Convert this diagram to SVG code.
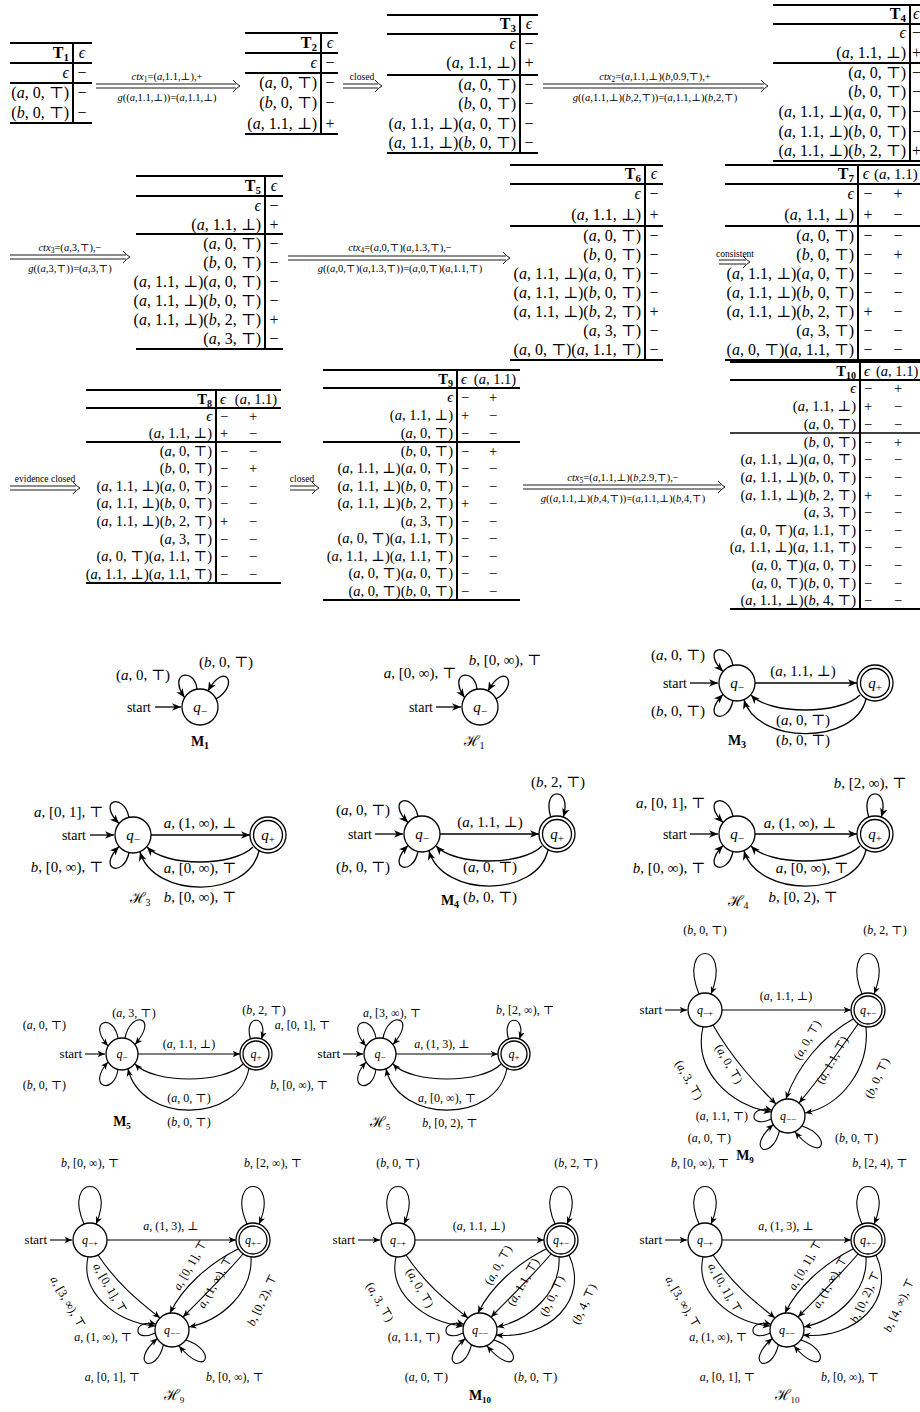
<svg xmlns="http://www.w3.org/2000/svg" width="920" height="1412" viewBox="0 0 920 1412">
<defs>
<style>
text{font-family:"Liberation Serif","DejaVu Serif",serif;fill:#000}
.t{font-size:16px}
.s{font-size:14.5px}
.e{text-anchor:end}
.c{text-anchor:middle}
.i{font-style:italic}
.b{font-weight:bold}
.u{font-size:10.5px}
.w{font-size:9.5px}
.k{font-size:15px}
.k2{font-size:12px}
.sl{font-size:14px}
.sl2{font-size:13px}
.nm{font-size:14px;font-weight:bold}
.nh{font-size:15px}
.ln{fill:none;stroke:#000;stroke-width:2}
.d{fill:none;stroke:#000;stroke-width:0.9}
.st{fill:#fff;stroke:#000;stroke-width:1.3}
.ed{fill:none;stroke:#000;stroke-width:1.3;marker-end:url(#ah)}
.ed2{fill:none;stroke:#000;stroke-width:1.1;marker-end:url(#ah2)}
</style>
<marker id="ah" viewBox="0 0 10 10" refX="10" refY="5" markerWidth="9" markerHeight="9" markerUnits="userSpaceOnUse" orient="auto"><path d="M0 0.8L10 5L0 9.2L2.8 5z"/></marker>
<marker id="ah2" viewBox="0 0 10 10" refX="10" refY="5" markerWidth="7.5" markerHeight="7.5" markerUnits="userSpaceOnUse" orient="auto"><path d="M0 0.8L10 5L0 9.2L2.8 5z"/></marker>
</defs>
<rect width="920" height="1412" fill="#fff"/>

<!-- TABLES -->
<g id="T1">
<path class="ln" d="M10 43H92M10 63H92M10 83H92M10 123H92M73 43V123"/>
<text class="t b e" x="69" y="58">T<tspan font-size="11" dy="3">1</tspan></text>
<text class="t i c" x="82" y="58">ϵ</text>
<text class="t e"><tspan x="69" y="78" class="i">ϵ</tspan><tspan x="69" y="98">(<tspan class="i">a</tspan>, 0, ⊤)</tspan><tspan x="69" y="118">(<tspan class="i">b</tspan>, 0, ⊤)</tspan></text>
<text class="t c"><tspan x="82" y="78">−</tspan><tspan x="82" y="98">−</tspan><tspan x="82" y="118">−</tspan></text>
</g>

<g id="T2">
<path class="ln" d="M245 33H338M245 53H338M245 73H338M245 134H338M321 33V134"/>
<text class="t b e" x="317" y="48">T<tspan font-size="11" dy="3">2</tspan></text>
<text class="t i c" x="330" y="48">ϵ</text>
<text class="t e"><tspan x="317" y="68" class="i">ϵ</tspan><tspan x="317" y="88">(<tspan class="i">a</tspan>, 0, ⊤)</tspan><tspan x="317" y="108">(<tspan class="i">b</tspan>, 0, ⊤)</tspan><tspan x="317" y="129">(<tspan class="i">a</tspan>, 1.1, ⊥)</tspan></text>
<text class="t c"><tspan x="330" y="68">−</tspan><tspan x="330" y="88">−</tspan><tspan x="330" y="108">−</tspan><tspan x="330" y="129">+</tspan></text>
</g>

<g id="T3">
<path class="ln" d="M387 15H538M387 34H538M387 75H538M387 153H538M520 15V153"/>
<text class="t b e" x="516" y="29">T<tspan font-size="11" dy="3">3</tspan></text>
<text class="t i c" x="529" y="29">ϵ</text>
<text class="t e"><tspan x="516" y="49" class="i">ϵ</tspan><tspan x="516" y="68">(<tspan class="i">a</tspan>, 1.1, ⊥)</tspan><tspan x="516" y="90">(<tspan class="i">a</tspan>, 0, ⊤)</tspan><tspan x="516" y="109">(<tspan class="i">b</tspan>, 0, ⊤)</tspan><tspan x="516" y="129">(<tspan class="i">a</tspan>, 1.1, ⊥)(<tspan class="i">a</tspan>, 0, ⊤)</tspan><tspan x="516" y="148">(<tspan class="i">a</tspan>, 1.1, ⊥)(<tspan class="i">b</tspan>, 0, ⊤)</tspan></text>
<text class="t c"><tspan x="529" y="49">−</tspan><tspan x="529" y="68">+</tspan><tspan x="529" y="90">−</tspan><tspan x="529" y="109">−</tspan><tspan x="529" y="129">−</tspan><tspan x="529" y="148">−</tspan></text>
</g>

<g id="T4">
<path class="ln" d="M773 5H920M773 24H920M773 63H920M773 161H920M910 5V161"/>
<text class="t b e" x="906" y="19">T<tspan font-size="11" dy="3">4</tspan></text>
<text class="t i" x="913" y="19">ϵ</text>
<text class="t e"><tspan x="906" y="38" class="i">ϵ</tspan><tspan x="906" y="58">(<tspan class="i">a</tspan>, 1.1, ⊥)</tspan><tspan x="906" y="78">(<tspan class="i">a</tspan>, 0, ⊤)</tspan><tspan x="906" y="97">(<tspan class="i">b</tspan>, 0, ⊤)</tspan><tspan x="906" y="117">(<tspan class="i">a</tspan>, 1.1, ⊥)(<tspan class="i">a</tspan>, 0, ⊤)</tspan><tspan x="906" y="137">(<tspan class="i">a</tspan>, 1.1, ⊥)(<tspan class="i">b</tspan>, 0, ⊤)</tspan><tspan x="906" y="156">(<tspan class="i">a</tspan>, 1.1, ⊥)(<tspan class="i">b</tspan>, 2, ⊤)</tspan></text>
<text class="t"><tspan x="912" y="38">−</tspan><tspan x="912" y="58">+</tspan><tspan x="912" y="78">−</tspan><tspan x="912" y="97">−</tspan><tspan x="912" y="117">−</tspan><tspan x="912" y="137">−</tspan><tspan x="912" y="156">+</tspan></text>
</g>

<g id="T5">
<path class="ln" d="M136 176H283M136 196H283M136 234H283M136 349H283M265 176V349"/>
<text class="t b e" x="261" y="191">T<tspan font-size="11" dy="3">5</tspan></text>
<text class="t i c" x="274" y="191">ϵ</text>
<text class="t e"><tspan x="261" y="211" class="i">ϵ</tspan><tspan x="261" y="230">(<tspan class="i">a</tspan>, 1.1, ⊥)</tspan><tspan x="261" y="249">(<tspan class="i">a</tspan>, 0, ⊤)</tspan><tspan x="261" y="268">(<tspan class="i">b</tspan>, 0, ⊤)</tspan><tspan x="261" y="287">(<tspan class="i">a</tspan>, 1.1, ⊥)(<tspan class="i">a</tspan>, 0, ⊤)</tspan><tspan x="261" y="306">(<tspan class="i">a</tspan>, 1.1, ⊥)(<tspan class="i">b</tspan>, 0, ⊤)</tspan><tspan x="261" y="325">(<tspan class="i">a</tspan>, 1.1, ⊥)(<tspan class="i">b</tspan>, 2, ⊤)</tspan><tspan x="261" y="344">(<tspan class="i">a</tspan>, 3, ⊤)</tspan></text>
<text class="t c"><tspan x="274" y="211">−</tspan><tspan x="274" y="230">+</tspan><tspan x="274" y="249">−</tspan><tspan x="274" y="268">−</tspan><tspan x="274" y="287">−</tspan><tspan x="274" y="306">−</tspan><tspan x="274" y="325">+</tspan><tspan x="274" y="344">−</tspan></text>
</g>

<g id="T6">
<path class="ln" d="M510 165H663M510 184H663M510 226H663M510 360H663M645 165V360"/>
<text class="t b e" x="641" y="179">T<tspan font-size="11" dy="3">6</tspan></text>
<text class="t i c" x="654" y="179">ϵ</text>
<text class="t e"><tspan x="641" y="199" class="i">ϵ</tspan><tspan x="641" y="220">(<tspan class="i">a</tspan>, 1.1, ⊥)</tspan><tspan x="641" y="241">(<tspan class="i">a</tspan>, 0, ⊤)</tspan><tspan x="641" y="260">(<tspan class="i">b</tspan>, 0, ⊤)</tspan><tspan x="641" y="279">(<tspan class="i">a</tspan>, 1.1, ⊥)(<tspan class="i">a</tspan>, 0, ⊤)</tspan><tspan x="641" y="298">(<tspan class="i">a</tspan>, 1.1, ⊥)(<tspan class="i">b</tspan>, 0, ⊤)</tspan><tspan x="641" y="317">(<tspan class="i">a</tspan>, 1.1, ⊥)(<tspan class="i">b</tspan>, 2, ⊤)</tspan><tspan x="641" y="336">(<tspan class="i">a</tspan>, 3, ⊤)</tspan><tspan x="641" y="355">(<tspan class="i">a</tspan>, 0, ⊤)(<tspan class="i">a</tspan>, 1.1, ⊤)</tspan></text>
<text class="t c"><tspan x="654" y="199">−</tspan><tspan x="654" y="220">+</tspan><tspan x="654" y="241">−</tspan><tspan x="654" y="260">−</tspan><tspan x="654" y="279">−</tspan><tspan x="654" y="298">−</tspan><tspan x="654" y="317">+</tspan><tspan x="654" y="336">−</tspan><tspan x="654" y="355">−</tspan></text>
</g>

<g id="T7">
<path class="ln" d="M725 165H920M725 184H920M725 226H920M725 360H920M858 165V360"/>
<text class="t b e" x="854" y="179">T<tspan font-size="11" dy="3">7</tspan></text>
<text class="t i c" x="866" y="179">ϵ</text>
<text x="874" y="179" font-size="15">(<tspan class="i">a</tspan>, 1.1)</text>
<text class="t e"><tspan x="854" y="199" class="i">ϵ</tspan><tspan x="854" y="220">(<tspan class="i">a</tspan>, 1.1, ⊥)</tspan><tspan x="854" y="241">(<tspan class="i">a</tspan>, 0, ⊤)</tspan><tspan x="854" y="260">(<tspan class="i">b</tspan>, 0, ⊤)</tspan><tspan x="854" y="279">(<tspan class="i">a</tspan>, 1.1, ⊥)(<tspan class="i">a</tspan>, 0, ⊤)</tspan><tspan x="854" y="298">(<tspan class="i">a</tspan>, 1.1, ⊥)(<tspan class="i">b</tspan>, 0, ⊤)</tspan><tspan x="854" y="317">(<tspan class="i">a</tspan>, 1.1, ⊥)(<tspan class="i">b</tspan>, 2, ⊤)</tspan><tspan x="854" y="336">(<tspan class="i">a</tspan>, 3, ⊤)</tspan><tspan x="854" y="355">(<tspan class="i">a</tspan>, 0, ⊤)(<tspan class="i">a</tspan>, 1.1, ⊤)</tspan></text>
<text class="t c"><tspan x="868" y="199">−</tspan><tspan x="868" y="220">+</tspan><tspan x="868" y="241">−</tspan><tspan x="868" y="260">−</tspan><tspan x="868" y="279">−</tspan><tspan x="868" y="298">−</tspan><tspan x="868" y="317">+</tspan><tspan x="868" y="336">−</tspan><tspan x="868" y="355">−</tspan></text>
<text class="t c"><tspan x="898" y="199">+</tspan><tspan x="898" y="220">−</tspan><tspan x="898" y="241">−</tspan><tspan x="898" y="260">+</tspan><tspan x="898" y="279">−</tspan><tspan x="898" y="298">−</tspan><tspan x="898" y="317">−</tspan><tspan x="898" y="336">−</tspan><tspan x="898" y="355">−</tspan></text>
</g>

<g id="T8">
<path class="ln" d="M86 390H281M86 408H281M86 442H281M86 583H281M216 390V583"/>
<text class="s b e" x="212" y="404">T<tspan font-size="10" dy="3">8</tspan></text>
<text class="s i c" x="223" y="404">ϵ</text>
<text class="s c" x="256" y="404">(<tspan class="i">a</tspan>, 1.1)</text>
<text class="s e"><tspan x="212" y="421" class="i">ϵ</tspan><tspan x="212" y="438">(<tspan class="i">a</tspan>, 1.1, ⊥)</tspan><tspan x="212" y="456">(<tspan class="i">a</tspan>, 0, ⊤)</tspan><tspan x="212" y="473">(<tspan class="i">b</tspan>, 0, ⊤)</tspan><tspan x="212" y="491">(<tspan class="i">a</tspan>, 1.1, ⊥)(<tspan class="i">a</tspan>, 0, ⊤)</tspan><tspan x="212" y="508">(<tspan class="i">a</tspan>, 1.1, ⊥)(<tspan class="i">b</tspan>, 0, ⊤)</tspan><tspan x="212" y="526">(<tspan class="i">a</tspan>, 1.1, ⊥)(<tspan class="i">b</tspan>, 2, ⊤)</tspan><tspan x="212" y="544">(<tspan class="i">a</tspan>, 3, ⊤)</tspan><tspan x="212" y="561">(<tspan class="i">a</tspan>, 0, ⊤)(<tspan class="i">a</tspan>, 1.1, ⊤)</tspan><tspan x="212" y="579">(<tspan class="i">a</tspan>, 1.1, ⊥)(<tspan class="i">a</tspan>, 1.1, ⊤)</tspan></text>
<text class="s c"><tspan x="224" y="421">−</tspan><tspan x="224" y="438">+</tspan><tspan x="224" y="456">−</tspan><tspan x="224" y="473">−</tspan><tspan x="224" y="491">−</tspan><tspan x="224" y="508">−</tspan><tspan x="224" y="526">+</tspan><tspan x="224" y="544">−</tspan><tspan x="224" y="561">−</tspan><tspan x="224" y="579">−</tspan></text>
<text class="s c"><tspan x="253" y="421">+</tspan><tspan x="253" y="438">−</tspan><tspan x="253" y="456">−</tspan><tspan x="253" y="473">+</tspan><tspan x="253" y="491">−</tspan><tspan x="253" y="508">−</tspan><tspan x="253" y="526">−</tspan><tspan x="253" y="544">−</tspan><tspan x="253" y="561">−</tspan><tspan x="253" y="579">−</tspan></text>
</g>

<g id="T9">
<path class="ln" d="M323 370H520M323 388H520M323 442H520M323 600H520M457 370V600"/>
<text class="s b e" x="453" y="384">T<tspan font-size="10" dy="3">9</tspan></text>
<text class="s i c" x="464" y="384">ϵ</text>
<text class="s c" x="495" y="384">(<tspan class="i">a</tspan>, 1.1)</text>
<text class="s e"><tspan x="453" y="402" class="i">ϵ</tspan><tspan x="453" y="420">(<tspan class="i">a</tspan>, 1.1, ⊥)</tspan><tspan x="453" y="438">(<tspan class="i">a</tspan>, 0, ⊤)</tspan><tspan x="453" y="456">(<tspan class="i">b</tspan>, 0, ⊤)</tspan><tspan x="453" y="473">(<tspan class="i">a</tspan>, 1.1, ⊥)(<tspan class="i">a</tspan>, 0, ⊤)</tspan><tspan x="453" y="491">(<tspan class="i">a</tspan>, 1.1, ⊥)(<tspan class="i">b</tspan>, 0, ⊤)</tspan><tspan x="453" y="508">(<tspan class="i">a</tspan>, 1.1, ⊥)(<tspan class="i">b</tspan>, 2, ⊤)</tspan><tspan x="453" y="526">(<tspan class="i">a</tspan>, 3, ⊤)</tspan><tspan x="453" y="543">(<tspan class="i">a</tspan>, 0, ⊤)(<tspan class="i">a</tspan>, 1.1, ⊤)</tspan><tspan x="453" y="561">(<tspan class="i">a</tspan>, 1.1, ⊥)(<tspan class="i">a</tspan>, 1.1, ⊤)</tspan><tspan x="453" y="578">(<tspan class="i">a</tspan>, 0, ⊤)(<tspan class="i">a</tspan>, 0, ⊤)</tspan><tspan x="453" y="596">(<tspan class="i">a</tspan>, 0, ⊤)(<tspan class="i">b</tspan>, 0, ⊤)</tspan></text>
<text class="s c"><tspan x="465" y="402">−</tspan><tspan x="465" y="420">+</tspan><tspan x="465" y="438">−</tspan><tspan x="465" y="456">−</tspan><tspan x="465" y="473">−</tspan><tspan x="465" y="491">−</tspan><tspan x="465" y="508">+</tspan><tspan x="465" y="526">−</tspan><tspan x="465" y="543">−</tspan><tspan x="465" y="561">−</tspan><tspan x="465" y="578">−</tspan><tspan x="465" y="596">−</tspan></text>
<text class="s c"><tspan x="493" y="402">+</tspan><tspan x="493" y="420">−</tspan><tspan x="493" y="438">−</tspan><tspan x="493" y="456">+</tspan><tspan x="493" y="473">−</tspan><tspan x="493" y="491">−</tspan><tspan x="493" y="508">−</tspan><tspan x="493" y="526">−</tspan><tspan x="493" y="543">−</tspan><tspan x="493" y="561">−</tspan><tspan x="493" y="578">−</tspan><tspan x="493" y="596">−</tspan></text>
</g>

<g id="T10">
<path class="ln" d="M730 362H920M730 380H920M730 609H920M860 362V609"/>
<path d="M730 433H920" stroke="#000" stroke-width="1.3"/>
<text class="s b e" x="856" y="376">T<tspan font-size="10" dy="3">10</tspan></text>
<text class="s i c" x="867" y="376">ϵ</text>
<text class="s" x="876" y="376">(<tspan class="i">a</tspan>, 1.1)</text>
<text class="s e"><tspan x="856" y="393" class="i">ϵ</tspan><tspan x="856" y="411">(<tspan class="i">a</tspan>, 1.1, ⊥)</tspan><tspan x="856" y="429">(<tspan class="i">a</tspan>, 0, ⊤)</tspan><tspan x="856" y="447">(<tspan class="i">b</tspan>, 0, ⊤)</tspan><tspan x="856" y="464">(<tspan class="i">a</tspan>, 1.1, ⊥)(<tspan class="i">a</tspan>, 0, ⊤)</tspan><tspan x="856" y="482">(<tspan class="i">a</tspan>, 1.1, ⊥)(<tspan class="i">b</tspan>, 0, ⊤)</tspan><tspan x="856" y="500">(<tspan class="i">a</tspan>, 1.1, ⊥)(<tspan class="i">b</tspan>, 2, ⊤)</tspan><tspan x="856" y="517">(<tspan class="i">a</tspan>, 3, ⊤)</tspan><tspan x="856" y="535">(<tspan class="i">a</tspan>, 0, ⊤)(<tspan class="i">a</tspan>, 1.1, ⊤)</tspan><tspan x="856" y="552">(<tspan class="i">a</tspan>, 1.1, ⊥)(<tspan class="i">a</tspan>, 1.1, ⊤)</tspan><tspan x="856" y="570">(<tspan class="i">a</tspan>, 0, ⊤)(<tspan class="i">a</tspan>, 0, ⊤)</tspan><tspan x="856" y="588">(<tspan class="i">a</tspan>, 0, ⊤)(<tspan class="i">b</tspan>, 0, ⊤)</tspan><tspan x="856" y="605">(<tspan class="i">a</tspan>, 1.1, ⊥)(<tspan class="i">b</tspan>, 4, ⊤)</tspan></text>
<text class="s c"><tspan x="868" y="393">−</tspan><tspan x="868" y="411">+</tspan><tspan x="868" y="429">−</tspan><tspan x="868" y="447">−</tspan><tspan x="868" y="464">−</tspan><tspan x="868" y="482">−</tspan><tspan x="868" y="500">+</tspan><tspan x="868" y="517">−</tspan><tspan x="868" y="535">−</tspan><tspan x="868" y="552">−</tspan><tspan x="868" y="570">−</tspan><tspan x="868" y="588">−</tspan><tspan x="868" y="605">−</tspan></text>
<text class="s c"><tspan x="898" y="393">+</tspan><tspan x="898" y="411">−</tspan><tspan x="898" y="429">−</tspan><tspan x="898" y="447">+</tspan><tspan x="898" y="464">−</tspan><tspan x="898" y="482">−</tspan><tspan x="898" y="500">−</tspan><tspan x="898" y="517">−</tspan><tspan x="898" y="535">−</tspan><tspan x="898" y="552">−</tspan><tspan x="898" y="570">−</tspan><tspan x="898" y="588">−</tspan><tspan x="898" y="605">−</tspan></text>
</g>

<!-- TABLE TRANSITIONS -->
<g id="connectors">
<path class="d" d="M96 84H236M96 88H236M233 80Q237 84.5 240 86Q237 87.5 233 92"/>
<path class="d" d="M343 84H378M343 88H378M375 80Q379 84.5 382 86Q379 87.5 375 92"/>
<path class="d" d="M543 84H764M543 88H764M761 80Q765 84.5 768 86Q765 87.5 761 92"/>
<path class="d" d="M10 255H126M10 259H126M123 251Q127 255.5 130 257Q127 258.5 123 263"/>
<path class="d" d="M288 256H506M288 260H506M503 252Q507 256.5 510 258Q507 259.5 503 264"/>
<path class="d" d="M719 260H746M719 264H746M743 256Q747 260.5 750 262Q747 263.5 743 268"/>
<path class="d" d="M10 486H76M10 490H76M73 482Q77 486.5 80 488Q77 489.5 73 494"/>
<path class="d" d="M290 486H315M290 490H315M312 482Q316 486.5 319 488Q316 489.5 312 494"/>
<path class="d" d="M523 485H721M523 489H721M718 481Q722 485.5 725 487Q722 488.5 718 493"/>
<text class="u c" x="167" y="80"><tspan class="i">ctx</tspan><tspan font-size="7.5" dy="2">1</tspan><tspan dy="-2">=(</tspan><tspan class="i">a</tspan>,1.1,⊥),+</text>
<text class="u c" x="167" y="101"><tspan class="i">g</tspan>((<tspan class="i">a</tspan>,1.1,⊥))=(<tspan class="i">a</tspan>,1.1,⊥)</text>
<text class="w c" x="362" y="80">closed</text>
<text class="u c" x="655" y="80"><tspan class="i">ctx</tspan><tspan font-size="7.5" dy="2">2</tspan><tspan dy="-2">=(</tspan><tspan class="i">a</tspan>,1.1,⊥)(<tspan class="i">b</tspan>,0.9,⊤),+</text>
<text class="u c" x="655" y="101"><tspan class="i">g</tspan>((<tspan class="i">a</tspan>,1.1,⊥)(<tspan class="i">b</tspan>,2,⊤))=(<tspan class="i">a</tspan>,1.1,⊥)(<tspan class="i">b</tspan>,2,⊤)</text>
<text class="u c" x="70" y="251"><tspan class="i">ctx</tspan><tspan font-size="7.5" dy="2">3</tspan><tspan dy="-2">=(</tspan><tspan class="i">a</tspan>,3,⊤),−</text>
<text class="u c" x="70" y="272"><tspan class="i">g</tspan>((<tspan class="i">a</tspan>,3,⊤))=(<tspan class="i">a</tspan>,3,⊤)</text>
<text class="u c" x="400" y="251"><tspan class="i">ctx</tspan><tspan font-size="7.5" dy="2">4</tspan><tspan dy="-2">=(</tspan><tspan class="i">a</tspan>,0,⊤)(<tspan class="i">a</tspan>,1.3,⊤),−</text>
<text class="u c" x="400" y="272"><tspan class="i">g</tspan>((<tspan class="i">a</tspan>,0,⊤)(<tspan class="i">a</tspan>,1.3,⊤))=(<tspan class="i">a</tspan>,0,⊤)(<tspan class="i">a</tspan>,1.1,⊤)</text>
<text class="w c" x="735" y="257">consistent</text>
<text class="w c" x="45" y="482">evidence closed</text>
<text class="w c" x="302" y="482">closed</text>
<text class="u c" x="623" y="481"><tspan class="i">ctx</tspan><tspan font-size="7.5" dy="2">5</tspan><tspan dy="-2">=(</tspan><tspan class="i">a</tspan>,1.1,⊥)(<tspan class="i">b</tspan>,2.9,⊤),−</text>
<text class="u c" x="623" y="502"><tspan class="i">g</tspan>((<tspan class="i">a</tspan>,1.1,⊥)(<tspan class="i">b</tspan>,4,⊤))=(<tspan class="i">a</tspan>,1.1,⊥)(<tspan class="i">b</tspan>,4,⊤)</text>
</g>

<!-- AUTOMATA ROW 1 -->
<g id="M1" transform="translate(200 707)">
<g id="M1-edges">
<path class="ed" d="M-45 0H-19"/>
<path class="ed" d="M-3 -17.7C-5 -40 -33 -35 -15.5 -9.5"/>
<path class="ed" d="M16 -8C40 -22 25 -47 8 -16"/>
</g>
<g id="M1-qm"><circle class="st" r="18"/><text class="k c" y="5"><tspan class="i">q</tspan><tspan font-size="11" dy="3">−</tspan></text></g>
<text class="sl e" x="-49" y="5">start</text>
<text class="k e" x="-30" y="-27">(<tspan class="i">a</tspan>, 0, ⊤)</text>
<text class="k c" x="26" y="-40">(<tspan class="i">b</tspan>, 0, ⊤)</text>
<text class="nm c" y="39">M<tspan font-size="10" dy="3">1</tspan></text>
</g>

<g id="H1" transform="translate(480 707)">
<g id="H1-edges">
<path class="ed" d="M-44 0H-19"/>
<path class="ed" d="M-3 -17.7C-5 -40 -33 -35 -15.5 -9.5"/>
<path class="ed" d="M16 -8C40 -22 25 -47 8 -16"/>
</g>
<g id="H1-qm"><circle class="st" r="18"/><text class="k c" y="5"><tspan class="i">q</tspan><tspan font-size="11" dy="3">−</tspan></text></g>
<text class="sl e" x="-47" y="5">start</text>
<text class="k e" x="-24" y="-29"><tspan class="i">a</tspan>, [0, ∞), ⊤</text>
<text class="k c" x="25" y="-42"><tspan class="i">b</tspan>, [0, ∞), ⊤</text>
<text class="nh c" x="-6" y="39">ℋ<tspan font-size="10" dy="3">1</tspan></text>
</g>

<g id="M3" transform="translate(737 683)">
<g id="M3-edges">
<path class="ed" d="M-47 0H-19"/>
<path class="ed" d="M-4 -17.5C-9 -43 -37 -35 -14 -11.5"/>
<path class="ed" d="M-4 17.5C-9 43 -37 35 -14 11.5"/>
<path class="ed" d="M18 0H120"/>
<path class="ed" d="M123 12C103 32 33 32 14 12"/>
<path class="ed" d="M129 16C118 62 21 62 7 17"/>
</g>
<g id="M3-qm"><circle class="st" r="18"/><text class="k c" y="5"><tspan class="i">q</tspan><tspan font-size="11" dy="3">−</tspan></text></g>
<g id="M3-qp"><circle class="st" cx="138" r="18"/><circle class="st" cx="138" r="14.5"/><text class="k c" x="138" y="5"><tspan class="i">q</tspan><tspan font-size="11" dy="3">+</tspan></text></g>
<text class="sl e" x="-50" y="5">start</text>
<text class="k e" x="-32" y="-23">(<tspan class="i">a</tspan>, 0, ⊤)</text>
<text class="k e" x="-32" y="33">(<tspan class="i">b</tspan>, 0, ⊤)</text>
<text class="k c" x="66" y="-7">(<tspan class="i">a</tspan>, 1.1, ⊥)</text>
<text class="k c" x="66" y="42">(<tspan class="i">a</tspan>, 0, ⊤)</text>
<text class="k c" x="66" y="62">(<tspan class="i">b</tspan>, 0, ⊤)</text>
<text class="nm c" y="62">M<tspan font-size="10" dy="3">3</tspan></text>
</g>

<!-- AUTOMATA ROW 2 -->
<g id="H3" transform="translate(133 835)">
<g id="H3-edges">
<path class="ed" d="M-43 0H-19"/>
<path class="ed" d="M-4 -17.5C-9 -43 -37 -35 -14 -11.5"/>
<path class="ed" d="M-4 17.5C-9 43 -37 35 -14 11.5"/>
<path class="ed" d="M18 0H117"/>
<path class="ed" d="M120 12C100 32 33 32 14 12"/>
<path class="ed" d="M126 16C115 64 21 64 7 17"/>
</g>
<g id="H3-qm"><circle class="st" r="18"/><text class="k c" y="5"><tspan class="i">q</tspan><tspan font-size="11" dy="3">−</tspan></text></g>
<g id="H3-qp"><circle class="st" cx="135" r="18"/><circle class="st" cx="135" r="14.5"/><text class="k c" x="135" y="5"><tspan class="i">q</tspan><tspan font-size="11" dy="3">+</tspan></text></g>
<text class="sl e" x="-47" y="5">start</text>
<text class="k e" x="-30" y="-18"><tspan class="i">a</tspan>, [0, 1], ⊤</text>
<text class="k e" x="-30" y="37"><tspan class="i">b</tspan>, [0, ∞), ⊤</text>
<text class="k c" x="67" y="-7"><tspan class="i">a</tspan>, (1, ∞), ⊥</text>
<text class="k c" x="67" y="38"><tspan class="i">a</tspan>, [0, ∞), ⊤</text>
<text class="k c" x="67" y="67"><tspan class="i">b</tspan>, [0, ∞), ⊤</text>
<text class="nh c" x="7" y="68">ℋ<tspan font-size="10" dy="3">3</tspan></text>
</g>

<g id="M4" transform="translate(422 834)">
<g id="M4-edges">
<path class="ed" d="M-47 0H-19"/>
<path class="ed" d="M-4 -17.5C-9 -43 -37 -35 -14 -11.5"/>
<path class="ed" d="M-4 17.5C-9 43 -37 35 -14 11.5"/>
<path class="ed" d="M128.8 -16.9C119 -48 151 -48 141.2 -16.9"/>
<path class="ed" d="M18 0H117"/>
<path class="ed" d="M120 12C100 32 33 32 14 12"/>
<path class="ed" d="M126 16C115 64 21 64 7 17"/>
</g>
<g id="M4-qm"><circle class="st" r="18"/><text class="k c" y="5"><tspan class="i">q</tspan><tspan font-size="11" dy="3">−</tspan></text></g>
<g id="M4-qp"><circle class="st" cx="135" r="18"/><circle class="st" cx="135" r="14.5"/><text class="k c" x="135" y="5"><tspan class="i">q</tspan><tspan font-size="11" dy="3">+</tspan></text></g>
<text class="sl e" x="-50" y="5">start</text>
<text class="k e" x="-32" y="-19">(<tspan class="i">a</tspan>, 0, ⊤)</text>
<text class="k e" x="-32" y="38">(<tspan class="i">b</tspan>, 0, ⊤)</text>
<text class="k c" x="136" y="-47">(<tspan class="i">b</tspan>, 2, ⊤)</text>
<text class="k c" x="68" y="-7">(<tspan class="i">a</tspan>, 1.1, ⊥)</text>
<text class="k c" x="68" y="38">(<tspan class="i">a</tspan>, 0, ⊤)</text>
<text class="k c" x="68" y="68">(<tspan class="i">b</tspan>, 0, ⊤)</text>
<text class="nm c" x="28" y="71">M<tspan font-size="10" dy="3">4</tspan></text>
</g>

<g id="H4" transform="translate(737 834)">
<g id="H4-edges">
<path class="ed" d="M-47 0H-19"/>
<path class="ed" d="M-4 -17.5C-9 -43 -37 -35 -14 -11.5"/>
<path class="ed" d="M-4 17.5C-9 43 -37 35 -14 11.5"/>
<path class="ed" d="M131.8 -16.9C122 -48 154 -48 144.2 -16.9"/>
<path class="ed" d="M18 0H120"/>
<path class="ed" d="M123 12C103 32 33 32 14 12"/>
<path class="ed" d="M129 16C118 64 21 64 7 17"/>
</g>
<g id="H4-qm"><circle class="st" r="18"/><text class="k c" y="5"><tspan class="i">q</tspan><tspan font-size="11" dy="3">−</tspan></text></g>
<g id="H4-qp"><circle class="st" cx="138" r="18"/><circle class="st" cx="138" r="14.5"/><text class="k c" x="138" y="5"><tspan class="i">q</tspan><tspan font-size="11" dy="3">+</tspan></text></g>
<text class="sl e" x="-50" y="5">start</text>
<text class="k e" x="-32" y="-26"><tspan class="i">a</tspan>, [0, 1], ⊤</text>
<text class="k e" x="-32" y="39"><tspan class="i">b</tspan>, [0, ∞), ⊤</text>
<text class="k c" x="133" y="-46"><tspan class="i">b</tspan>, [2, ∞), ⊤</text>
<text class="k c" x="63" y="-6"><tspan class="i">a</tspan>, (1, ∞), ⊥</text>
<text class="k c" x="75" y="39"><tspan class="i">a</tspan>, [0, ∞), ⊤</text>
<text class="k c" x="66" y="68"><tspan class="i">b</tspan>, [0, 2), ⊤</text>
<text class="nh c" x="1" y="72">ℋ<tspan font-size="10" dy="3">4</tspan></text>
</g>

<!-- AUTOMATA ROW 3 -->
<g id="M5" transform="translate(122 1054)">
<g id="M5-edges">
<path class="ed2" d="M-37 0H-17"/>
<path class="ed2" d="M-4 -15.5C-8 -42 -36 -33 -14 -8"/>
<path class="ed2" d="M3 -15.7C8 -44 38 -38 13 -9.5"/>
<path class="ed2" d="M-4 15.5C-8 42 -36 33 -14 8"/>
<path class="ed2" d="M128.5 -15C121 -40 147 -40 139.5 -15"/>
<path class="ed2" d="M16 0H118"/>
<path class="ed2" d="M121 10C102 30 32 30 13 10"/>
<path class="ed2" d="M127 14C117 70 19 70 6 15"/>
</g>
<g id="M5-qm"><circle class="st" r="16"/><text class="k2 c" y="4"><tspan class="i">q</tspan><tspan font-size="9" dy="2">−</tspan></text></g>
<g id="M5-qp"><circle class="st" cx="134" r="16"/><circle class="st" cx="134" r="13"/><text class="k2 c" x="134" y="4"><tspan class="i">q</tspan><tspan font-size="9" dy="2">+</tspan></text></g>
<text class="sl2 e" x="-40" y="4">start</text>
<text class="k2 e" x="-56" y="-25">(<tspan class="i">a</tspan>, 0, ⊤)</text>
<text class="k2 c" x="12" y="-37">(<tspan class="i">a</tspan>, 3, ⊤)</text>
<text class="k2 e" x="-56" y="35">(<tspan class="i">b</tspan>, 0, ⊤)</text>
<text class="k2 c" x="142" y="-40">(<tspan class="i">b</tspan>, 2, ⊤)</text>
<text class="k2 c" x="67" y="-6">(<tspan class="i">a</tspan>, 1.1, ⊥)</text>
<text class="k2 c" x="67" y="48">(<tspan class="i">a</tspan>, 0, ⊤)</text>
<text class="k2 c" x="67" y="72">(<tspan class="i">b</tspan>, 0, ⊤)</text>
<text class="nm c" y="72" font-size="12">M<tspan font-size="9" dy="3">5</tspan></text>
</g>

<g id="H5" transform="translate(380 1054)">
<g id="H5-edges">
<path class="ed2" d="M-37 0H-17"/>
<path class="ed2" d="M-4 -15.5C-8 -42 -36 -33 -14 -8"/>
<path class="ed2" d="M3 -15.7C8 -44 38 -38 13 -9.5"/>
<path class="ed2" d="M-4 15.5C-8 42 -36 33 -14 8"/>
<path class="ed2" d="M128.5 -15C121 -40 147 -40 139.5 -15"/>
<path class="ed2" d="M16 0H118"/>
<path class="ed2" d="M121 10C102 30 32 30 13 10"/>
<path class="ed2" d="M127 14C117 70 19 70 6 15"/>
</g>
<g id="H5-qm"><circle class="st" r="16"/><text class="k2 c" y="4"><tspan class="i">q</tspan><tspan font-size="9" dy="2">−</tspan></text></g>
<g id="H5-qp"><circle class="st" cx="134" r="16"/><circle class="st" cx="134" r="13"/><text class="k2 c" x="134" y="4"><tspan class="i">q</tspan><tspan font-size="9" dy="2">+</tspan></text></g>
<text class="sl2 e" x="-40" y="4">start</text>
<text class="k2 e" x="-50" y="-25"><tspan class="i">a</tspan>, [0, 1], ⊤</text>
<text class="k2 c" x="12" y="-37"><tspan class="i">a</tspan>, [3, ∞), ⊤</text>
<text class="k2 e" x="-52" y="35"><tspan class="i">b</tspan>, [0, ∞), ⊤</text>
<text class="k2 c" x="145" y="-40"><tspan class="i">b</tspan>, [2, ∞), ⊤</text>
<text class="k2 c" x="62" y="-6"><tspan class="i">a</tspan>, (1, 3), ⊥</text>
<text class="k2 c" x="67" y="48"><tspan class="i">a</tspan>, [0, ∞), ⊤</text>
<text class="k2 c" x="70" y="73"><tspan class="i">b</tspan>, [0, 2), ⊤</text>
<text class="nh c" y="73" font-size="12">ℋ<tspan font-size="9" dy="3">5</tspan></text>
</g>

<g id="M9" transform="translate(705 1010)">
<g id="M9-edges">
<path class="ed2" d="M-40 0H-18"/>
<path class="ed2" d="M-6 -16C-28 -70 28 -70 6 -16"/>
<path class="ed2" d="M157 -16C135 -70 191 -70 169 -16"/>
<path class="ed2" d="M17 0H146"/>
<path class="ed2" d="M-2 17C-12 60 25 96 66 102"/>
<path class="ed2" d="M8 15C28 50 52 75 71 94"/>
<path class="ed2" d="M148 9C118 26 92 56 81 89"/>
<path class="ed2" d="M153 14C135 40 113 70 94 93"/>
<path class="ed2" d="M161 17C165 60 135 96 100 103"/>
<path class="ed2" d="M66.3 109C43 120 43 94 67 100.2"/>
<path class="ed2" d="M74.5 120.7C67 152 39 140 68.3 114.5"/>
<path class="ed2" d="M97 116C128 126 119 156 90 122"/>
</g>
<g id="M9-qmp"><circle class="st" r="17"/><text class="k2 c" y="4"><tspan class="i">q</tspan><tspan font-size="9" dy="2">−+</tspan></text></g>
<g id="M9-qpm"><circle class="st" cx="163" r="17"/><circle class="st" cx="163" r="14"/><text class="k2 c" x="163" y="4"><tspan class="i">q</tspan><tspan font-size="9" dy="2">+−</tspan></text></g>
<g id="M9-qmm"><circle class="st" cx="83" cy="106" r="17"/><text class="k2 c" x="83" y="110"><tspan class="i">q</tspan><tspan font-size="9" dy="2">−−</tspan></text></g>
<text class="sl2 e" x="-43" y="4">start</text>
<text class="k2 c" x="0" y="-76">(<tspan class="i">b</tspan>, 0, ⊤)</text>
<text class="k2 c" x="180" y="-76">(<tspan class="i">b</tspan>, 2, ⊤)</text>
<text class="k2 c" x="81" y="-10">(<tspan class="i">a</tspan>, 1.1, ⊥)</text>
<text class="k2 c" transform="translate(-16 70) rotate(60)" y="4">(<tspan class="i">a</tspan>, 3, ⊤)</text>
<text class="k2 c" transform="translate(24 54) rotate(60)" y="4">(<tspan class="i">a</tspan>, 0, ⊤)</text>
<text class="k2 c" transform="translate(102 30) rotate(-60)" y="4">(<tspan class="i">a</tspan>, 0, ⊤)</text>
<text class="k2 c" transform="translate(127 50) rotate(-60)" y="4">(<tspan class="i">a</tspan>, 1.1, ⊤)</text>
<text class="k2 c" transform="translate(172 68) rotate(-65)" y="4">(<tspan class="i">b</tspan>, 0, ⊤)</text>
<text class="k2 e" x="43" y="110">(<tspan class="i">a</tspan>, 1.1, ⊤)</text>
<text class="k2 e" x="26" y="132">(<tspan class="i">a</tspan>, 0, ⊤)</text>
<text class="k2" x="130" y="132">(<tspan class="i">b</tspan>, 0, ⊤)</text>
<text class="nm c" x="40" y="150" font-size="12">M<tspan font-size="9" dy="3">9</tspan></text>
</g>

<!-- AUTOMATA ROW 4 -->
<g id="H9" transform="translate(90 1240)">
<g id="H9-edges">
<path class="ed2" d="M-40 0H-18"/>
<path class="ed2" d="M-6 -16C-28 -66 28 -66 6 -16"/>
<path class="ed2" d="M157 -16C135 -66 191 -66 169 -16"/>
<path class="ed2" d="M17 0H146"/>
<path class="ed2" d="M-2 17C-10 52 25 82 65 86"/>
<path class="ed2" d="M8 15C28 45 50 62 70 78"/>
<path class="ed2" d="M148 9C118 24 92 48 80 73"/>
<path class="ed2" d="M153 14C135 35 112 58 93 77"/>
<path class="ed2" d="M161 17C163 52 132 80 99 87"/>
<path class="ed2" d="M65.3 93C42 104 42 78 66 84.2"/>
<path class="ed2" d="M73.5 104.7C66 136 38 124 67.3 98.5"/>
<path class="ed2" d="M96 100C127 110 118 140 89 106"/>
</g>
<g id="H9-qmp"><circle class="st" r="17"/><text class="k2 c" y="4"><tspan class="i">q</tspan><tspan font-size="9" dy="2">−+</tspan></text></g>
<g id="H9-qpm"><circle class="st" cx="163" r="17"/><circle class="st" cx="163" r="14"/><text class="k2 c" x="163" y="4"><tspan class="i">q</tspan><tspan font-size="9" dy="2">+−</tspan></text></g>
<g id="H9-qmm"><circle class="st" cx="82" cy="90" r="17"/><text class="k2 c" x="82" y="94"><tspan class="i">q</tspan><tspan font-size="9" dy="2">−−</tspan></text></g>
<text class="sl2 e" x="-43" y="4">start</text>
<text class="k2 c" x="0" y="-73"><tspan class="i">b</tspan>, [0, ∞), ⊤</text>
<text class="k2 c" x="183" y="-73"><tspan class="i">b</tspan>, [2, ∞), ⊤</text>
<text class="k2 c" x="81" y="-10"><tspan class="i">a</tspan>, (1, 3), ⊥</text>
<text class="k2 c" transform="translate(-22 62) rotate(60)" y="4"><tspan class="i">a</tspan>, [3, ∞), ⊤</text>
<text class="k2 c" transform="translate(20 48) rotate(60)" y="4"><tspan class="i">a</tspan>, [0, 1], ⊤</text>
<text class="k2 c" transform="translate(100 25) rotate(-60)" y="4"><tspan class="i">a</tspan>, [0, 1], ⊤</text>
<text class="k2 c" transform="translate(125 42) rotate(-60)" y="4"><tspan class="i">a</tspan>, (1, ∞), ⊤</text>
<text class="k2 c" transform="translate(172 60) rotate(-65)" y="4"><tspan class="i">b</tspan>, [0, 2), ⊤</text>
<text class="k2 e" x="42" y="101"><tspan class="i">a</tspan>, (1, ∞), ⊤</text>
<text class="k2 e" x="50" y="141"><tspan class="i">a</tspan>, [0, 1], ⊤</text>
<text class="k2" x="116" y="141"><tspan class="i">b</tspan>, [0, ∞), ⊤</text>
<text class="nh c" x="84" y="160" font-size="12">ℋ<tspan font-size="9" dy="3">9</tspan></text>
</g>

<g id="M10" transform="translate(398 1240)">
<g id="M10-edges">
<path class="ed2" d="M-40 0H-18"/>
<path class="ed2" d="M-6 -16C-28 -66 28 -66 6 -16"/>
<path class="ed2" d="M157 -16C135 -66 191 -66 169 -16"/>
<path class="ed2" d="M17 0H146"/>
<path class="ed2" d="M-2 17C-10 52 25 82 65 86"/>
<path class="ed2" d="M8 15C28 45 50 62 70 78"/>
<path class="ed2" d="M148 9C118 24 92 48 80 73"/>
<path class="ed2" d="M153 14C135 35 112 58 93 77"/>
<path class="ed2" d="M161 17C163 52 132 80 99 87"/>
<path class="ed2" d="M171 15C192 60 150 100 98 95"/>
<path class="ed2" d="M65.3 93C42 104 42 78 66 84.2"/>
<path class="ed2" d="M73.5 104.7C66 136 38 124 67.3 98.5"/>
<path class="ed2" d="M96 100C127 110 118 140 89 106"/>
</g>
<g id="M10-qmp"><circle class="st" r="17"/><text class="k2 c" y="4"><tspan class="i">q</tspan><tspan font-size="9" dy="2">−+</tspan></text></g>
<g id="M10-qpm"><circle class="st" cx="163" r="17"/><circle class="st" cx="163" r="14"/><text class="k2 c" x="163" y="4"><tspan class="i">q</tspan><tspan font-size="9" dy="2">+−</tspan></text></g>
<g id="M10-qmm"><circle class="st" cx="82" cy="90" r="17"/><text class="k2 c" x="82" y="94"><tspan class="i">q</tspan><tspan font-size="9" dy="2">−−</tspan></text></g>
<text class="sl2 e" x="-43" y="4">start</text>
<text class="k2 c" x="0" y="-73">(<tspan class="i">b</tspan>, 0, ⊤)</text>
<text class="k2 c" x="178" y="-73">(<tspan class="i">b</tspan>, 2, ⊤)</text>
<text class="k2 c" x="81" y="-10">(<tspan class="i">a</tspan>, 1.1, ⊥)</text>
<text class="k2 c" transform="translate(-18 62) rotate(60)" y="4">(<tspan class="i">a</tspan>, 3, ⊤)</text>
<text class="k2 c" transform="translate(22 48) rotate(60)" y="4">(<tspan class="i">a</tspan>, 0, ⊤)</text>
<text class="k2 c" transform="translate(100 25) rotate(-60)" y="4">(<tspan class="i">a</tspan>, 0, ⊤)</text>
<text class="k2 c" transform="translate(125 42) rotate(-60)" y="4">(<tspan class="i">a</tspan>, 1.1, ⊤)</text>
<text class="k2 c" transform="translate(154 56) rotate(-65)" y="4">(<tspan class="i">b</tspan>, 0, ⊤)</text>
<text class="k2 c" transform="translate(186 64) rotate(-65)" y="4">(<tspan class="i">b</tspan>, 4, ⊤)</text>
<text class="k2 e" x="42" y="101">(<tspan class="i">a</tspan>, 1.1, ⊤)</text>
<text class="k2 e" x="50" y="141">(<tspan class="i">a</tspan>, 0, ⊤)</text>
<text class="k2" x="116" y="141">(<tspan class="i">b</tspan>, 0, ⊤)</text>
<text class="nm c" x="82" y="160" font-size="12">M<tspan font-size="9" dy="3">10</tspan></text>
</g>

<g id="H10" transform="translate(705 1240)">
<g id="H10-edges">
<path class="ed2" d="M-40 0H-18"/>
<path class="ed2" d="M-6 -16C-28 -66 28 -66 6 -16"/>
<path class="ed2" d="M157 -16C135 -66 191 -66 169 -16"/>
<path class="ed2" d="M17 0H146"/>
<path class="ed2" d="M-2 17C-10 52 25 82 65 86"/>
<path class="ed2" d="M8 15C28 45 50 62 70 78"/>
<path class="ed2" d="M148 9C118 24 92 48 80 73"/>
<path class="ed2" d="M153 14C135 35 112 58 93 77"/>
<path class="ed2" d="M161 17C163 52 132 80 99 87"/>
<path class="ed2" d="M171 15C192 60 150 100 98 95"/>
<path class="ed2" d="M65.3 93C42 104 42 78 66 84.2"/>
<path class="ed2" d="M73.5 104.7C66 136 38 124 67.3 98.5"/>
<path class="ed2" d="M96 100C127 110 118 140 89 106"/>
</g>
<g id="H10-qmp"><circle class="st" r="17"/><text class="k2 c" y="4"><tspan class="i">q</tspan><tspan font-size="9" dy="2">−+</tspan></text></g>
<g id="H10-qpm"><circle class="st" cx="163" r="17"/><circle class="st" cx="163" r="14"/><text class="k2 c" x="163" y="4"><tspan class="i">q</tspan><tspan font-size="9" dy="2">+−</tspan></text></g>
<g id="H10-qmm"><circle class="st" cx="82" cy="90" r="17"/><text class="k2 c" x="82" y="94"><tspan class="i">q</tspan><tspan font-size="9" dy="2">−−</tspan></text></g>
<text class="sl2 e" x="-43" y="4">start</text>
<text class="k2 c" x="-5" y="-73"><tspan class="i">b</tspan>, [0, ∞), ⊤</text>
<text class="k2 c" x="175" y="-73"><tspan class="i">b</tspan>, [2, 4), ⊤</text>
<text class="k2 c" x="81" y="-10"><tspan class="i">a</tspan>, (1, 3), ⊥</text>
<text class="k2 c" transform="translate(-22 62) rotate(60)" y="4"><tspan class="i">a</tspan>, [3, ∞), ⊤</text>
<text class="k2 c" transform="translate(20 48) rotate(60)" y="4"><tspan class="i">a</tspan>, [0, 1], ⊤</text>
<text class="k2 c" transform="translate(100 25) rotate(-60)" y="4"><tspan class="i">a</tspan>, [0, 1], ⊤</text>
<text class="k2 c" transform="translate(125 42) rotate(-60)" y="4"><tspan class="i">a</tspan>, (1, ∞), ⊤</text>
<text class="k2 c" transform="translate(160 57) rotate(-65)" y="4"><tspan class="i">b</tspan>, [0, 2), ⊤</text>
<text class="k2 c" transform="translate(194 65) rotate(-65)" y="4"><tspan class="i">b</tspan>, [4, ∞), ⊤</text>
<text class="k2 e" x="42" y="101"><tspan class="i">a</tspan>, (1, ∞), ⊤</text>
<text class="k2 e" x="50" y="141"><tspan class="i">a</tspan>, [0, 1], ⊤</text>
<text class="k2" x="116" y="141"><tspan class="i">b</tspan>, [0, ∞), ⊤</text>
<text class="nh c" x="82" y="160" font-size="12">ℋ<tspan font-size="9" dy="3">10</tspan></text>
</g>
</svg>
